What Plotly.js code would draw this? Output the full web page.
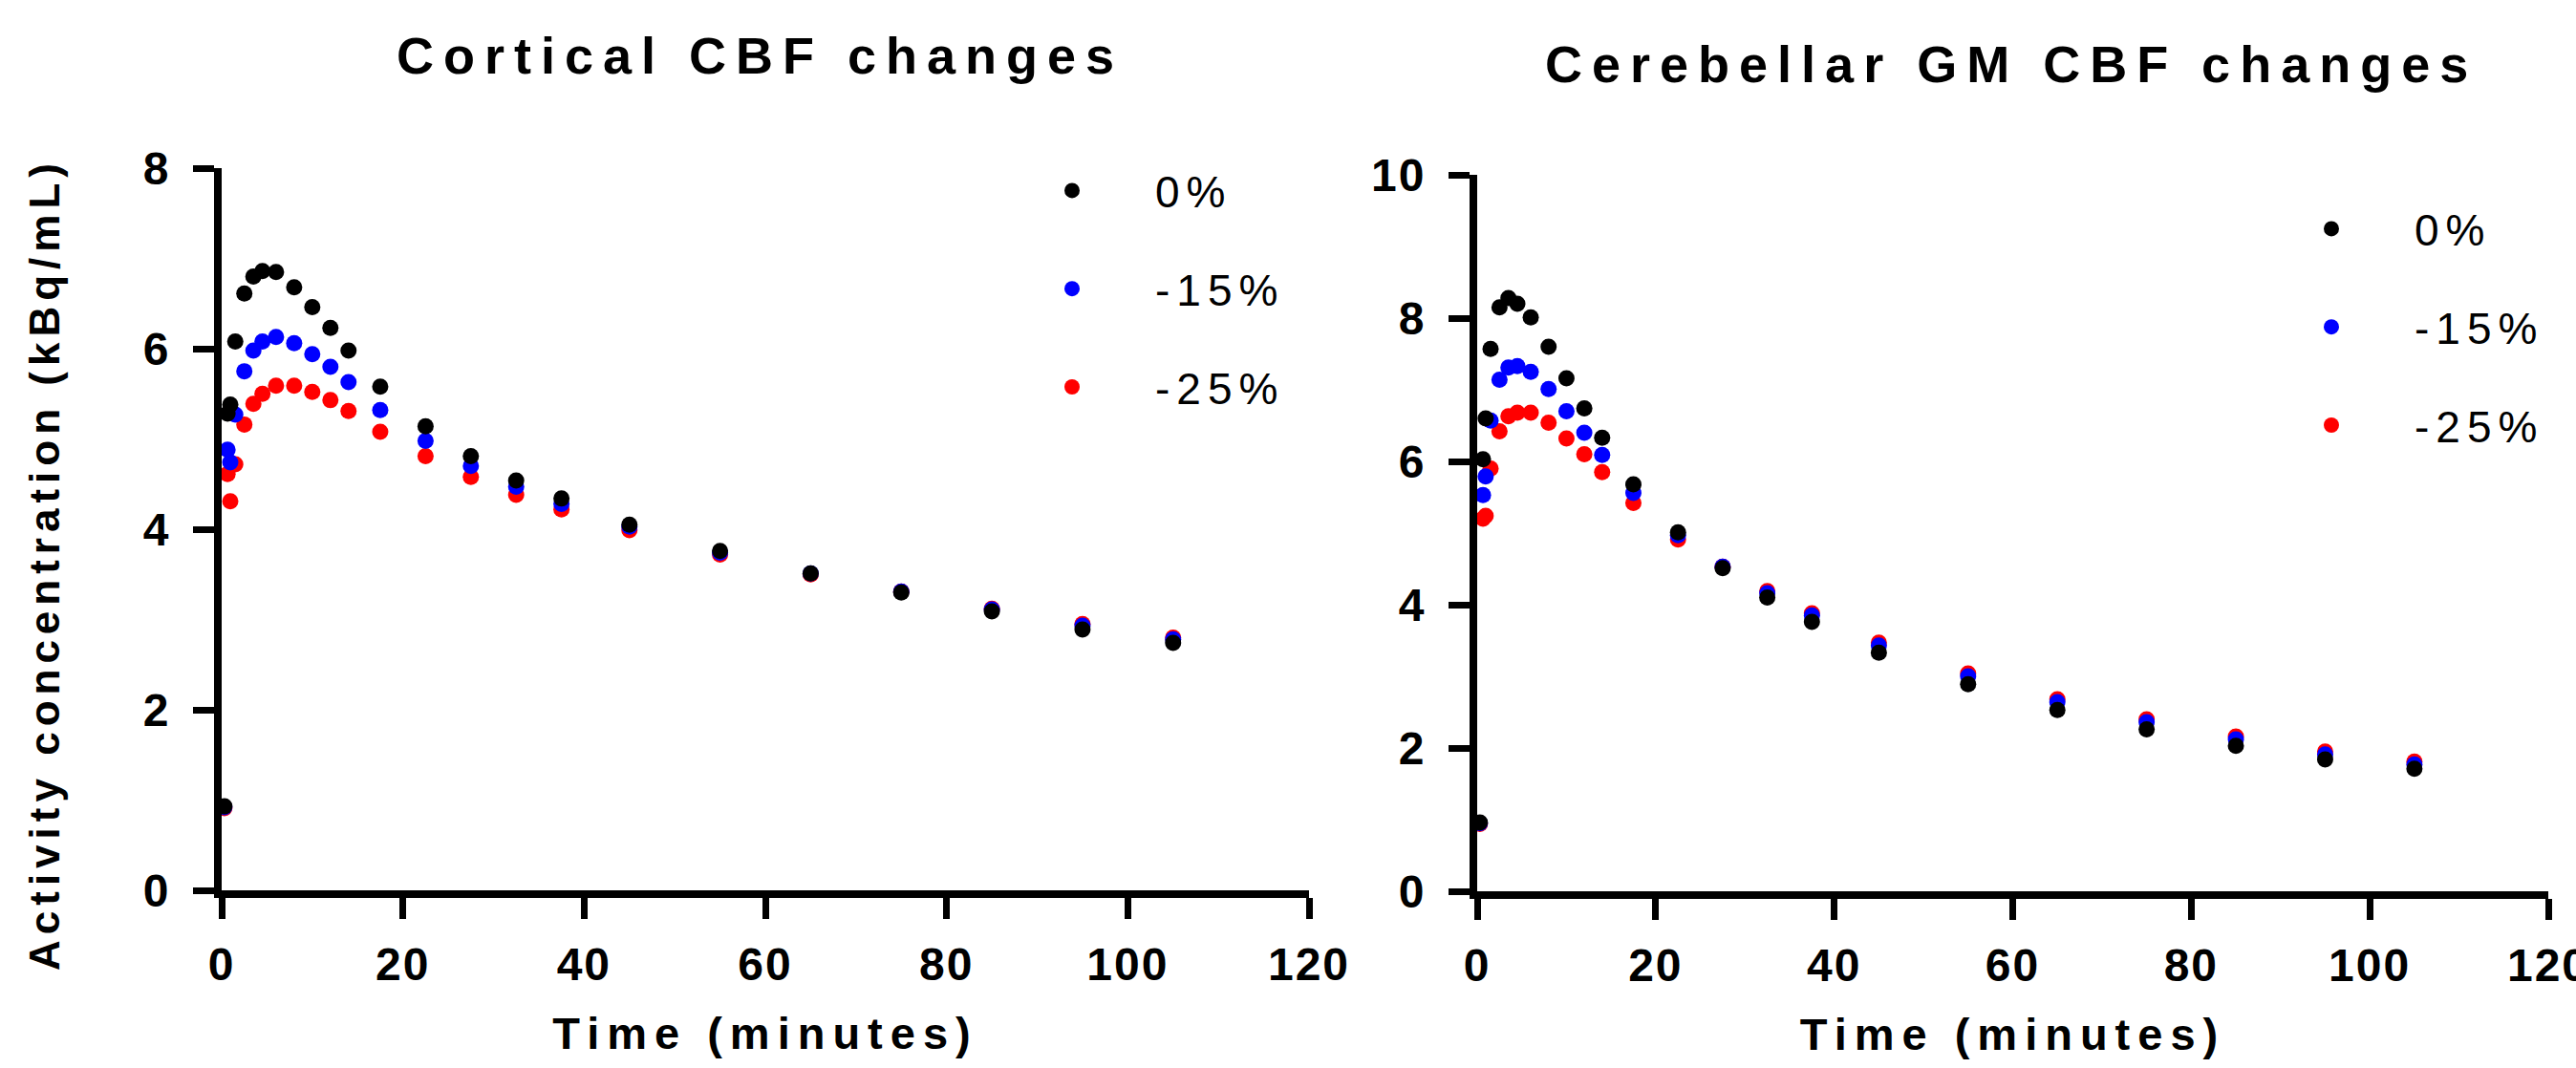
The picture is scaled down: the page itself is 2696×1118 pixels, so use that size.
<!DOCTYPE html>
<html>
<head>
<meta charset="utf-8">
<script src="https://cdn.plot.ly/plotly-3.0.1.min.js"></script>
<style>
  html, body { margin: 0; padding: 0; background: #fff; }
  #chart { width: 2696px; height: 1118px; }
  .annotation[data-index="0"] .annotation-text,
  .annotation[data-index="1"] .annotation-text { letter-spacing: 10px; }
  .annotation[data-index="2"] .annotation-text { letter-spacing: 6px; }
  .xtick text, .x2tick text, .ytick text, .y2tick text { letter-spacing: 2px; }
  .xtitle, .x2title { letter-spacing: 8px; }
  .legendtext, [class*="legend"] text { letter-spacing: 7px; }
</style>
</head>
<body>
<div id="chart"></div>
<script>
// Frame mid-times (minutes)
const time = [0.3, 0.65, 0.95, 1.5, 2.5, 3.5, 4.5, 6, 8, 10, 12, 14, 17.5, 22.5, 27.5, 32.5, 37.5, 45, 55, 65, 75, 85, 95, 105];

const seriesNames = ['0%', '-15%', '-25%'];
const seriesColors = ['#000000', '#0000ff', '#ff0000'];

// Cortical CBF changes (kBq/mL)
const cortical0  = [0.93, 5.28, 5.38, 6.08, 6.61, 6.80, 6.86, 6.85, 6.68, 6.46, 6.23, 5.98, 5.58, 5.14, 4.81, 4.54, 4.34, 4.05, 3.76, 3.51, 3.30, 3.09, 2.89, 2.74];
const cortical15 = [0.92, 4.88, 4.74, 5.27, 5.75, 5.98, 6.08, 6.13, 6.06, 5.94, 5.80, 5.63, 5.32, 4.98, 4.70, 4.47, 4.28, 4.03, 3.74, 3.51, 3.31, 3.11, 2.93, 2.78];
const cortical25 = [0.91, 4.61, 4.31, 4.72, 5.16, 5.39, 5.50, 5.59, 5.59, 5.52, 5.43, 5.31, 5.08, 4.81, 4.58, 4.38, 4.22, 3.99, 3.72, 3.50, 3.31, 3.12, 2.95, 2.80];

// Cerebellar GM CBF changes (kBq/mL)
const cereb0  = [0.96, 6.03, 6.60, 7.57, 8.15, 8.28, 8.20, 8.01, 7.60, 7.16, 6.74, 6.33, 5.68, 5.01, 4.51, 4.10, 3.76, 3.33, 2.89, 2.53, 2.26, 2.03, 1.84, 1.71];
const cereb15 = [0.95, 5.53, 5.79, 6.57, 7.14, 7.31, 7.33, 7.25, 7.01, 6.70, 6.40, 6.09, 5.56, 4.97, 4.53, 4.16, 3.85, 3.43, 3.00, 2.64, 2.36, 2.12, 1.91, 1.77];
const cereb25 = [0.94, 5.20, 5.24, 5.90, 6.42, 6.63, 6.68, 6.68, 6.54, 6.32, 6.10, 5.85, 5.42, 4.91, 4.53, 4.19, 3.88, 3.47, 3.04, 2.68, 2.40, 2.16, 1.95, 1.81];

const titles = ['Cortical CBF changes', 'Cerebellar GM CBF changes'];
const xTitle = 'Time (minutes)';
const yTitle = 'Activity concentration (kBq/mL)';

const FONT = 'Arial, "Liberation Sans", Helvetica, sans-serif';

const cortical = [cortical0, cortical15, cortical25];
const cereb = [cereb0, cereb15, cereb25];

const traces = [];
// draw order: red first, then blue, black on top
for (let i = 2; i >= 0; i--) {
  traces.push({
    type: 'scatter', mode: 'markers', x: time, y: cortical[i],
    xaxis: 'x', yaxis: 'y', name: seriesNames[i], legend: 'legend',
    legendgroup: 'a' + i, legendrank: i + 1,
    marker: { color: seriesColors[i], size: 17, line: { width: 0 } },
    cliponaxis: false
  });
}
for (let i = 2; i >= 0; i--) {
  traces.push({
    type: 'scatter', mode: 'markers', x: time, y: cereb[i],
    xaxis: 'x2', yaxis: 'y2', name: seriesNames[i], legend: 'legend2',
    legendgroup: 'b' + i, legendrank: i + 1,
    marker: { color: seriesColors[i], size: 17, line: { width: 0 } },
    cliponaxis: false
  });
}

const W = 2696, H = 1118;
function axisCommon() {
  return {
    showline: true, linecolor: '#000', linewidth: 8,
    ticks: 'outside', ticklen: 22, tickwidth: 7, tickcolor: '#000',
    showgrid: false, zeroline: false, ticklabeloverflow: 'allow',
    tickfont: { family: FONT, size: 48, color: '#000', weight: 'bold' }
  };
}

const legendCommon = {
  font: { family: FONT, size: 46, color: '#000' },
  bgcolor: 'rgba(0,0,0,0)', borderwidth: 0,
  itemwidth: 164, tracegroupgap: 40, xanchor: 'left', yanchor: 'top',
  itemclick: false, itemdoubleclick: false, valign: 'middle'
};

const xTitleObj = { text: xTitle, standoff: 34, font: { family: FONT, size: 47, color: '#000', weight: 'bold' } };

const layout = {
  width: W, height: H,
  margin: { l: 0, r: 0, t: 0, b: 0 },
  paper_bgcolor: '#fff', plot_bgcolor: '#fff',
  showlegend: true,
  xaxis: Object.assign(axisCommon(), {
    domain: [232 / W, 1370 / W], range: [0, 120], dtick: 20, anchor: 'y',
    ticklabelstandoff: 6, title: xTitleObj
  }),
  yaxis: Object.assign(axisCommon(), {
    domain: [1 - 932 / H, 1 - 176 / H], range: [0, 8], dtick: 2, anchor: 'x',
    ticklabelstandoff: 14
  }),
  xaxis2: Object.assign(axisCommon(), {
    domain: [1546 / W, 2667 / W], range: [0, 120], dtick: 20, anchor: 'y2',
    ticklabelstandoff: 6, title: xTitleObj
  }),
  yaxis2: Object.assign(axisCommon(), {
    domain: [1 - 933 / H, 1 - 183 / H], range: [0, 10], dtick: 2, anchor: 'x2',
    ticklabelstandoff: 14
  }),
  legend: Object.assign({}, legendCommon, { x: 1035 / W, y: 1 - 163 / H }),
  legend2: Object.assign({}, legendCommon, { x: 2353 / W, y: 1 - 203 / H }),
  annotations: [
    { text: titles[0], xref: 'paper', yref: 'paper', x: 795 / W, y: 1 - 58 / H,
      xanchor: 'center', yanchor: 'middle', showarrow: false,
      font: { family: FONT, size: 54, color: '#000', weight: 'bold' } },
    { text: titles[1], xref: 'paper', yref: 'paper', x: 2105 / W, y: 1 - 67 / H,
      xanchor: 'center', yanchor: 'middle', showarrow: false,
      font: { family: FONT, size: 54, color: '#000', weight: 'bold' } },
    { text: yTitle, xref: 'paper', yref: 'paper', x: 46 / W, y: 1 - 591 / H,
      xanchor: 'center', yanchor: 'middle', showarrow: false, textangle: -90,
      font: { family: FONT, size: 44, color: '#000', weight: 'bold' } }
  ]
};

Plotly.newPlot('chart', traces, layout, { staticPlot: true, displayModeBar: false });
</script>
</body>
</html>
